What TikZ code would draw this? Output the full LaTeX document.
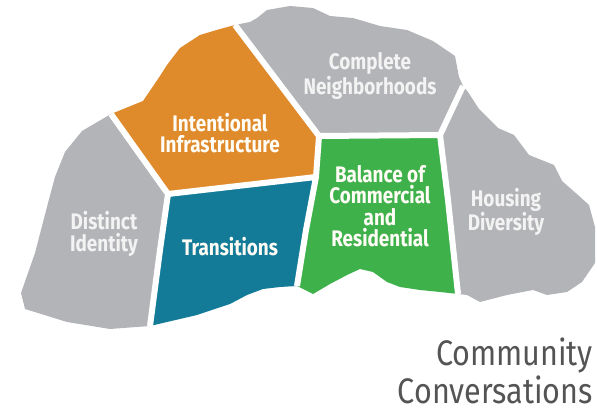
\documentclass[tikz,border=0pt]{standalone}
\usepackage{fontspec}
\newfontfamily\labfont[FakeStretch=0.84]{Fira Sans}
\newfontfamily\titfont[FakeStretch=0.86]{Fira Sans}
\definecolor{cgray}{HTML}{B3B4B7}
\definecolor{corange}{HTML}{DF8A2B}
\definecolor{cteal}{HTML}{137B98}
\definecolor{cgreen}{HTML}{3FB14B}
\definecolor{ctxtgray}{HTML}{F3F3F3}
\definecolor{ctxtcol}{HTML}{FFFDF6}
\definecolor{ctitle}{HTML}{545454}
\tikzset{
  region/.style={draw=white, line width=6pt, line join=round},
  lab/.style={align=center, font=\labfont\bfseries\fontsize{22.5}{21.5}\selectfont, inner sep=0pt},
  title/.style={anchor=east, font=\titfont\fontsize{35.5}{38}\selectfont, text=ctitle, inner sep=0pt}
}
\begin{document}
\begin{tikzpicture}[x=1pt,y=-1pt]
\useasboundingbox (0,0) rectangle (597,419);
% junctions
\coordinate (A) at (111,114);
\coordinate (J1) at (168,194);
\coordinate (J2) at (316,177);
\coordinate (J3) at (319,136);
\coordinate (J4) at (440,135);
\coordinate (J5) at (297,286);
\coordinate (J6) at (150,326);
\coordinate (J7) at (458,294);
\coordinate (J8) at (235,25);
\coordinate (J9) at (463,86);
\coordinate (M1) at (160,250);
\coordinate (M2) at (306,230);
\coordinate (M3) at (448,200);
% regions
\fill[corange] (A) -- (143,101) -- (160,76) -- (167,65) -- (180,48) -- (200,35) -- (220,29) -- (J8) -- (J3) -- (J2) -- (J1) -- cycle;
\fill[cgray] (J8) -- (250,22) -- (257,18) -- (267,10) -- (290,6) -- (313,8) -- (330,16) -- (353,18) -- (380,26) -- (407,30) -- (433,41) -- (455,56) -- (459,77) -- (J9) -- (J4) -- (J3) -- cycle;
\fill[cgray] (J9) -- (468,92) -- (479,109) -- (498,128) -- (514,135) -- (529,155) -- (554,165) -- (562,181) -- (578,195) -- (589,205) -- (595,227) -- (595,263) -- (582,282) -- (567,292) -- (547,295) -- (533,290) -- (507,295) -- (480,302) -- (467,295) -- (J7) -- (M3) -- (J4) -- cycle;
\fill[cgreen] (J3) -- (J4) -- (M3) -- (J7) -- (440,292) -- (420,290) -- (400,287) -- (387,282) -- (373,272) -- (360,269) -- (347,275) -- (330,284) -- (313,294) -- (J5) -- (M2) -- (J2) -- cycle;
\fill[cteal] (J1) -- (J2) -- (M2) -- (J5) -- (280,287) -- (263,289) -- (247,295) -- (230,304) -- (197,315) -- (J6) -- (M1) -- cycle;
\fill[cgray] (A) -- (J1) -- (M1) -- (J6) -- (110,329) -- (67,322) -- (25,309) -- (21,293) -- (28,273) -- (35,253) -- (41,230) -- (48,203) -- (55,177) -- (65,152) -- (82,131) -- cycle;
% white gaps
\draw[region] (A) -- (J1) -- (M1) -- (J6);
\draw[region] (J1) -- (J2) -- (M2) -- (J5);
\draw[region] (J8) -- (J3) -- (J2);
\draw[region] (J3) -- (J4) -- (M3) -- (J7);
\draw[region] (J9) -- (J4);
% labels
\node[lab, text=ctxtcol] (ii) at (220,133) {Intentional\\Infrastructure};
\node[lab, text=ctxtgray] (cn) at (370,76) {Complete\\Neighborhoods};
\node[lab, text=ctxtcol] (bc) at (380,206) {Balance of\\Commercial\\and\\Residential};
\node[lab, text=ctxtgray] (hd) at (506,212) {Housing\\Diversity};
\node[lab, text=ctxtgray] (di) at (104,234) {Distinct\\Identity};
\node[lab, text=ctxtcol] (tr) at (230,247) {Transitions};
\node[title] (t1) at (593,355) {Community};
\node[title] (t2) at (593,390) {Conversations};
\end{tikzpicture}
\end{document}
